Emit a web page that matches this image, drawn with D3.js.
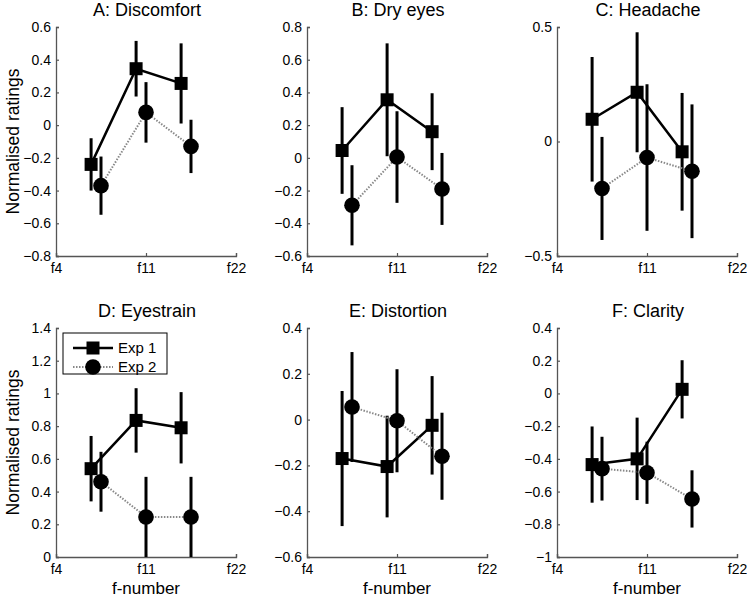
<!DOCTYPE html>
<html>
<head>
<meta charset="utf-8">
<script src="https://cdn.jsdelivr.net/npm/d3@7"></script>
<style>
  body { margin: 0; background: #fff; }
  svg { font-family: "Liberation Sans", Arial, sans-serif; }
</style>
</head>
<body>
<div id="chart"></div>
<script>
// Panel titles and axes
var panelTitles = ['A: Discomfort', 'B: Dry eyes', 'C: Headache', 'D: Eyestrain', 'E: Distortion', 'F: Clarity'];
var yDomains = [[-0.8, 0.6], [-0.6, 0.8], [-0.5, 0.5], [0, 1.4], [-0.6, 0.4], [-1, 0.4]];
var yTicks = [
  [-0.8, -0.6, -0.4, -0.2, 0, 0.2, 0.4, 0.6],
  [-0.6, -0.4, -0.2, 0, 0.2, 0.4, 0.6, 0.8],
  [-0.5, 0, 0.5],
  [0, 0.2, 0.4, 0.6, 0.8, 1, 1.2, 1.4],
  [-0.6, -0.4, -0.2, 0, 0.2, 0.4],
  [-1, -0.8, -0.6, -0.4, -0.2, 0, 0.2, 0.4]
];
var xTickPos = [0, 2, 4];
var xTickLabels = ['f4', 'f11', 'f22'];

// x positions of the conditions (Exp 1 slightly offset)
var exp1X = [0.78, 1.78, 2.78];
var exp2X = [1, 2, 3];

// means and error bar half-lengths, one row per panel
var exp1Mean = [
  [-0.24, 0.345, 0.255],
  [0.045, 0.355, 0.16],
  [0.097, 0.215, -0.045],
  [0.54, 0.835, 0.79],
  [-0.17, -0.205, -0.025],
  [-0.435, -0.40, 0.025]
];
var exp1Err = [
  [0.16, 0.17, 0.245],
  [0.265, 0.345, 0.235],
  [0.272, 0.262, 0.257],
  [0.2, 0.197, 0.218],
  [0.295, 0.222, 0.215],
  [0.233, 0.252, 0.178]
];
var exp2Mean = [
  [-0.37, 0.078, -0.13],
  [-0.29, 0.005, -0.19],
  [-0.205, -0.07, -0.13],
  [0.46, 0.245, 0.245],
  [0.055, -0.005, -0.16],
  [-0.46, -0.485, -0.645]
];
var exp2Err = [
  [0.178, 0.185, 0.163],
  [0.245, 0.28, 0.22],
  [0.225, 0.32, 0.292],
  [0.183, 0.245, 0.245],
  [0.24, 0.225, 0.19],
  [0.195, 0.19, 0.175]
];

var legendLabels = ['Exp 1', 'Exp 2'];

var panelLeft = [56, 307, 557],
    panelTop = [27, 328],
    width = 180,
    height = 229;

var svg = d3.select('#chart')
    .append('svg')
    .attr('width', 747)
    .attr('height', 597);

var x = d3.scaleLinear().domain([0, 4]).range([0, width]);

panelTitles.forEach(function(title, i) {
  var col = i % 3, row = Math.floor(i / 3);
  var g = svg.append('g')
      .attr('transform', 'translate(' + panelLeft[col] + ',' + panelTop[row] + ')');

  var y = d3.scaleLinear().domain(yDomains[i]).range([height, 0]);

  // axes: left and bottom, ticks pointing inward
  var yAxis = g.append('g')
      .call(d3.axisLeft(y).tickValues(yTicks[i]).tickSize(-3).tickPadding(5)
        .tickFormat(function(d) { return d3.format('~g')(d); }));
  var xAxis = g.append('g')
      .attr('transform', 'translate(0,' + height + ')')
      .call(d3.axisBottom(x).tickValues(xTickPos).tickSize(-3).tickPadding(4)
        .tickFormat(function(d, k) { return xTickLabels[k]; }));
  [yAxis, xAxis].forEach(function(a) {
    a.select('.domain').attr('stroke', '#555').attr('stroke-width', 1.3);
    a.selectAll('.tick line').attr('stroke', '#555').attr('stroke-width', 1.2);
    a.selectAll('.tick text').attr('fill', '#000').style('font-size', '14px');
  });
  xAxis.selectAll('.tick text').attr('dy', '0.9em');

  // title
  g.append('text')
      .attr('x', width / 2 + 1)
      .attr('y', -11)
      .attr('text-anchor', 'middle')
      .style('font-size', '18px')
      .text(title);

  if (col === 0) {
    g.append('text')
        .attr('transform', 'rotate(-90)')
        .attr('x', -height / 2)
        .attr('y', -37)
        .attr('text-anchor', 'middle')
        .style('font-size', '17.5px')
        .text('Normalised ratings');
  }
  if (row === 1) {
    g.append('text')
        .attr('x', width / 2)
        .attr('y', height + 37)
        .attr('text-anchor', 'middle')
        .style('font-size', '17px')
        .text('f-number');
  }

  var series = [
    {xs: exp1X, mean: exp1Mean[i], err: exp1Err[i], dash: null, color: '#000', lw: 2.5, shape: 'square'},
    {xs: exp2X, mean: exp2Mean[i], err: exp2Err[i], dash: '1.5,1.5', color: '#888', lw: 2, shape: 'circle'}
  ];

  series.forEach(function(s) {
    var pts = s.xs.map(function(xv, k) { return {x: xv, m: s.mean[k], e: s.err[k]}; });

    // error bars
    g.selectAll(null)
        .data(pts)
        .enter().append('line')
        .attr('x1', function(d) { return x(d.x); })
        .attr('x2', function(d) { return x(d.x); })
        .attr('y1', function(d) { return y(Math.max(d.m - d.e, yDomains[i][0])); })
        .attr('y2', function(d) { return y(d.m + d.e); })
        .attr('stroke', '#000')
        .attr('stroke-width', 3);

    // connecting line
    var line = d3.line()
        .x(function(d) { return x(d.x); })
        .y(function(d) { return y(d.m); });
    g.append('path')
        .datum(pts)
        .attr('fill', 'none')
        .attr('stroke', s.color)
        .attr('stroke-width', s.lw)
        .attr('stroke-dasharray', s.dash)
        .attr('d', line);

    // markers
    if (s.shape === 'square') {
      g.selectAll(null)
          .data(pts)
          .enter().append('rect')
          .attr('x', function(d) { return x(d.x) - 6.5; })
          .attr('y', function(d) { return y(d.m) - 6.5; })
          .attr('width', 13)
          .attr('height', 13)
          .attr('fill', '#000');
    } else {
      g.selectAll(null)
          .data(pts)
          .enter().append('circle')
          .attr('cx', function(d) { return x(d.x); })
          .attr('cy', function(d) { return y(d.m); })
          .attr('r', 7.8)
          .attr('fill', '#000');
    }
  });

  // legend in panel D
  if (i === 3) {
    var lg = g.append('g').attr('transform', 'translate(7,5)');
    lg.append('rect')
        .attr('width', 104)
        .attr('height', 41)
        .attr('fill', '#fff')
        .attr('stroke', '#000')
        .attr('stroke-width', 1);
    legendLabels.forEach(function(lab, k) {
      var s = series[k], yy = 15 + k * 19;
      lg.append('line')
          .attr('x1', 10).attr('x2', 50)
          .attr('y1', yy).attr('y2', yy)
          .attr('stroke', s.color)
          .attr('stroke-width', s.lw)
          .attr('stroke-dasharray', s.dash);
      if (s.shape === 'square') {
        lg.append('rect').attr('x', 30 - 6.5).attr('y', yy - 6.5)
            .attr('width', 13).attr('height', 13).attr('fill', '#000');
      } else {
        lg.append('circle').attr('cx', 30).attr('cy', yy).attr('r', 7.8).attr('fill', '#000');
      }
      lg.append('text')
          .attr('x', 55)
          .attr('y', yy + 5)
          .style('font-size', '15px')
          .text(lab);
    });
  }
});
</script>
</body>
</html>
